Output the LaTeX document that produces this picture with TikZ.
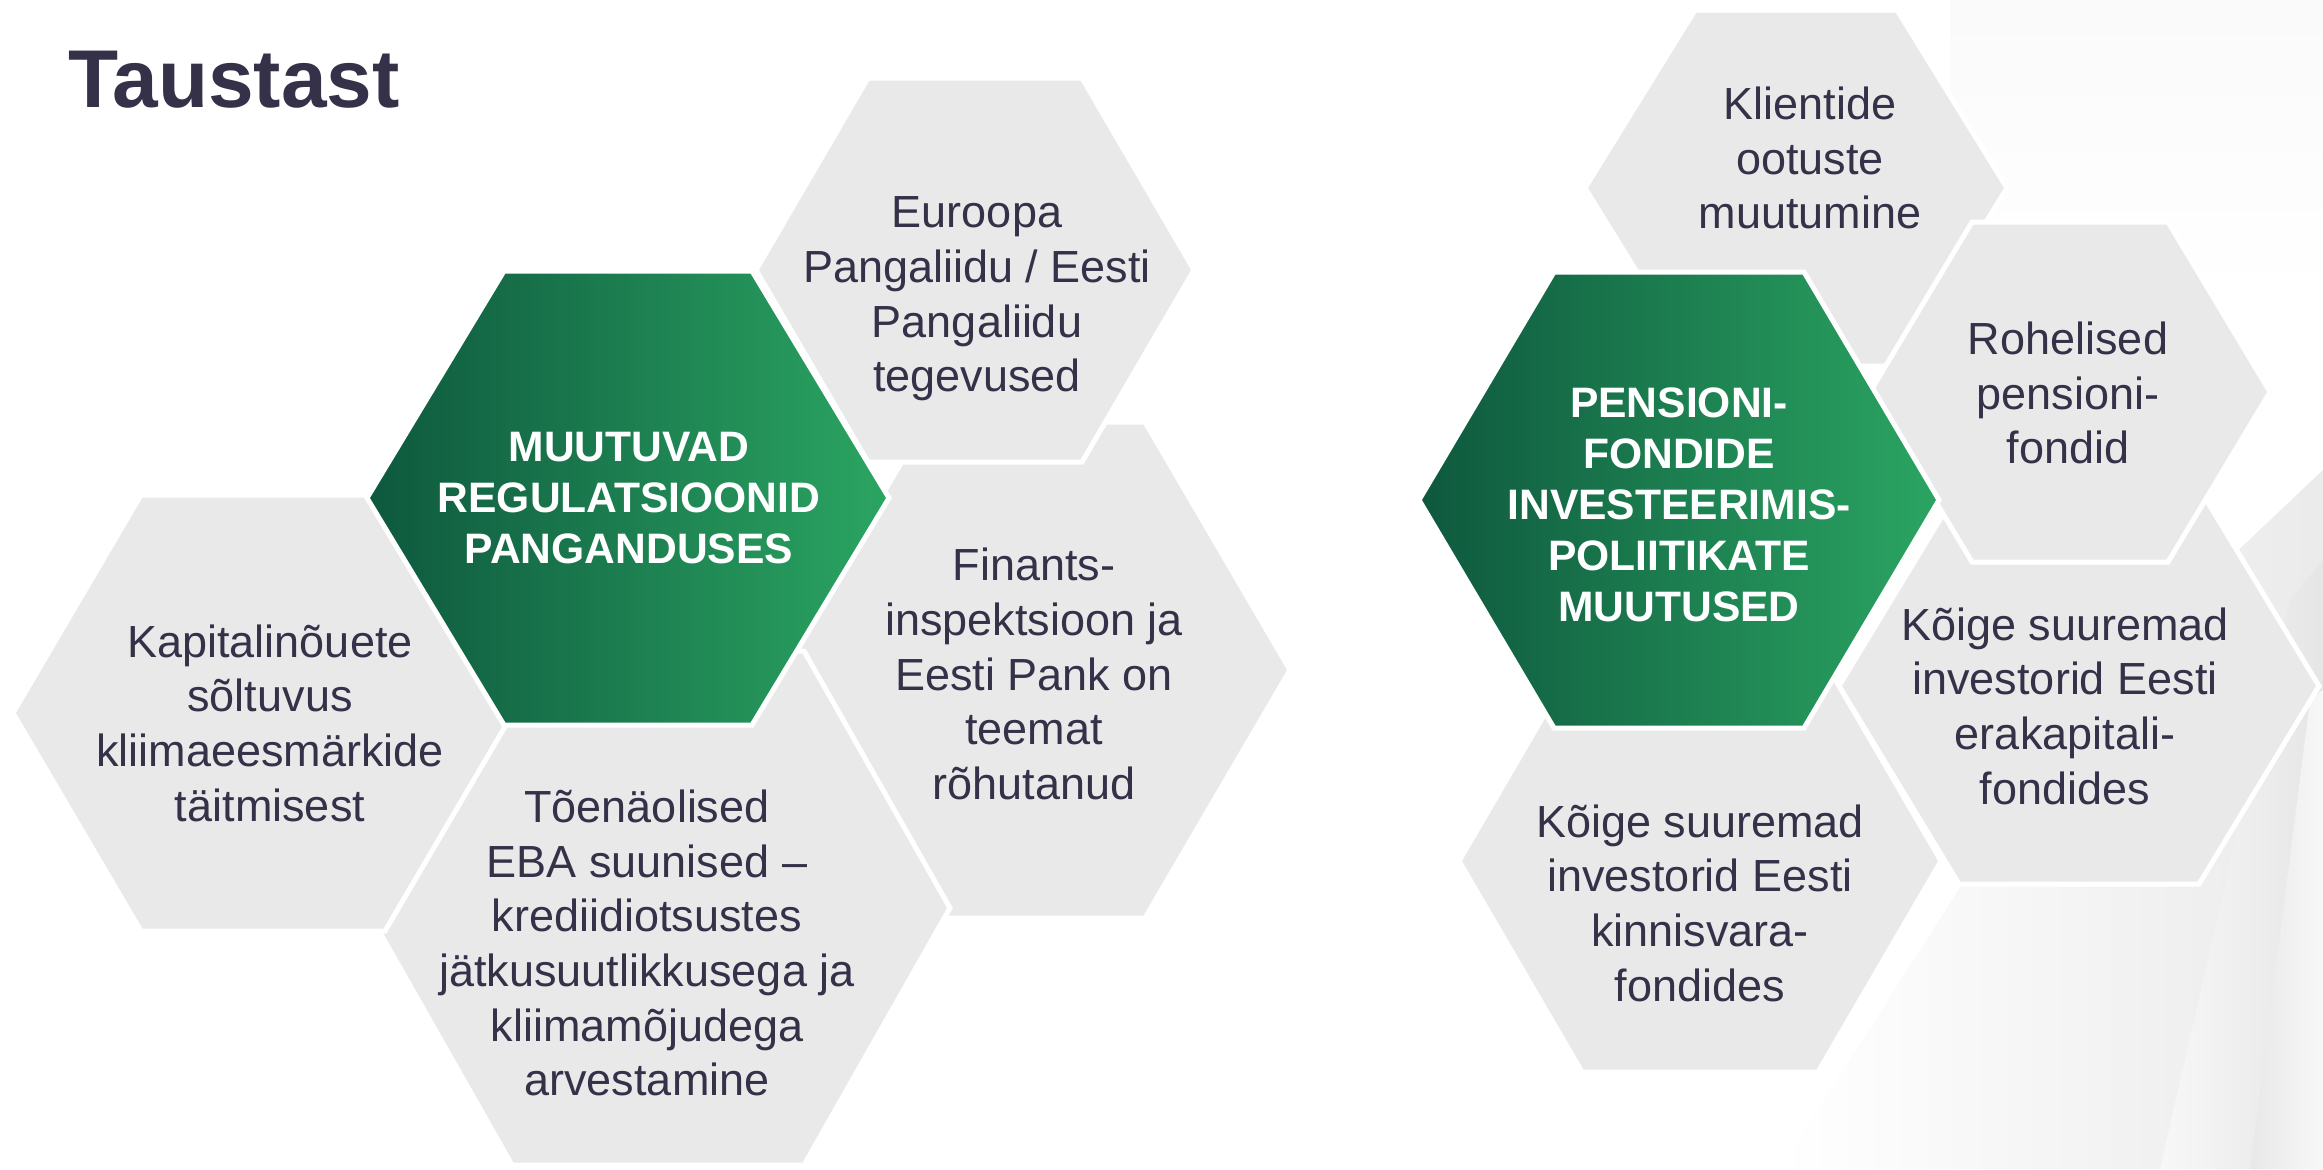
\documentclass[tikz,border=0pt]{standalone}
\usepackage{fontspec}
\setmainfont{Liberation Sans}
\definecolor{hexgray}{RGB}{233,233,233}
\definecolor{txt}{RGB}{52,49,72}
\definecolor{gdark}{RGB}{14,88,62}
\definecolor{glight}{RGB}{43,165,98}
% #1 options, #2 cx, #3 cy, #4 half width, #5 half height, #6 half top edge
\newcommand\hexshape[6]{%
  \path[#1] ({#2-#4},{#3}) -- ({#2-#6},{#3-#5}) -- ({#2+#6},{#3-#5}) --
    ({#2+#4},{#3}) -- ({#2+#6},{#3+#5}) -- ({#2-#6},{#3+#5}) -- cycle;}
\tikzset{
  grayhex/.style={fill=hexgray, draw=white, line width=2.5pt, line join=miter},
  greenhex/.style={left color=gdark, right color=glight, draw=white, line width=2.5pt, line join=miter},
  graytext/.style={align=center, text=txt, inner sep=0pt, font=\fontsize{22.5}{27.3}\selectfont},
  greentext/.style={align=center, text=white, inner sep=0pt, font=\bfseries\fontsize{21.3}{25.5}\selectfont},
  titletext/.style={text=txt, inner sep=0pt, font=\bfseries\fontsize{41}{48}\selectfont}
}
\begin{document}
\begin{tikzpicture}[x=0.5pt, y=-0.5pt]
\useasboundingbox (0,0) rectangle (2323,1169);
\fill[white] (0,0) rectangle (2323,1169);
% faint background shapes
\shade[left color=white, right color=black!8] (1780,1169) -- (2080,700) -- (2323,470) -- (2323,1169) -- cycle;
\shade[left color=black!3, right color=black!10] (2160,1169) -- (2290,600) -- (2323,560) -- (2323,1169) -- cycle;
\shade[left color=black!9, right color=black!3] (2250,1169) -- (2310,700) -- (2323,690) -- (2323,1169) -- cycle;
\shade[top color=black!2, bottom color=white] (1950,0) rectangle (2323,300);

\node[titletext, anchor=base west] (title) at (68,107) {Taustast};

% left cluster
\hexshape{grayhex}{1035}{670}{255}{248}{110}
\hexshape{grayhex}{658}{908}{292}{257}{146}
\hexshape{grayhex}{263}{713}{250}{218}{122}
\hexshape{grayhex}{975}{270}{219}{192}{107}
\hexshape{greenhex}{628}{498}{261}{227}{124}

% right cluster
\hexshape{grayhex}{2079}{686}{240}{198}{120}
\hexshape{grayhex}{1796}{188}{211}{178}{101}
\hexshape{grayhex}{2070}{392}{200}{170}{98}
\hexshape{grayhex}{1700}{861}{241}{211}{118}
\hexshape{greenhex}{1679}{500}{260}{228}{125}

% texts left
\node[greentext] (g1) at (629,498) {MUUTUVAD\\REGULATSIOONID\\PANGANDUSES};
\node[graytext] (e) at (977,299) {Euroopa\\Pangaliidu / Eesti\\Pangaliidu\\tegevused};
\node[graytext] (f) at (1034,674) {Finants-\\inspektsioon ja\\Eesti Pank on\\teemat\\rõhutanud};
\node[graytext] (k) at (270,723) {Kapitalinõuete\\sõltuvus\\kliimaeesmärkide\\täitmisest};
\node[graytext] (t) at (647,943) {Tõenäolised\\EBA suunised –\\krediidiotsustes\\jätkusuutlikkusega ja\\kliimamõjudega\\arvestamine};

% texts right
\node[greentext] (g2) at (1679,505) {PENSIONI-\\FONDIDE\\INVESTEERIMIS-\\POLIITIKATE\\MUUTUSED};
\node[graytext] (kl) at (1810,158) {Klientide\\ootuste\\muutumine};
\node[graytext] (ro) at (2068,393) {Rohelised\\pensioni-\\fondid};
\node[graytext] (ke) at (2065,706) {Kõige suuremad\\investorid Eesti\\erakapitali-\\fondides};
\node[graytext] (kk) at (1700,903) {Kõige suuremad\\investorid Eesti\\kinnisvara-\\fondides};
\end{tikzpicture}
\end{document}
